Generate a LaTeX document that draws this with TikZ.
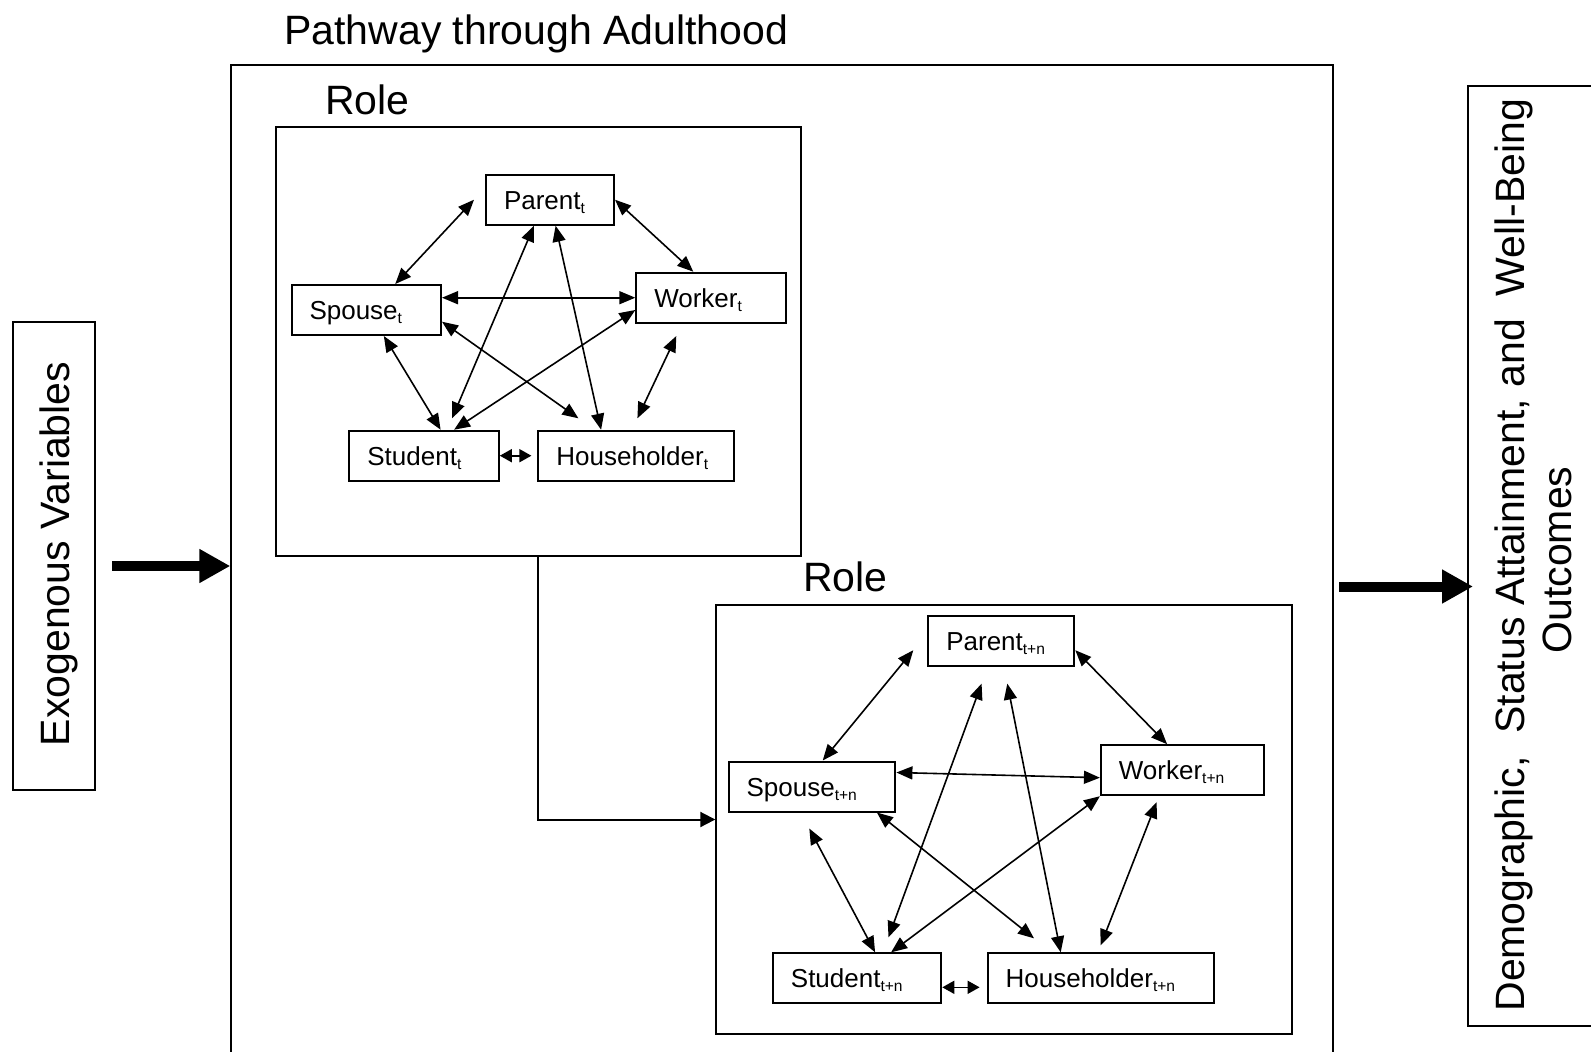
\documentclass[tikz,border=0pt]{standalone}
\usepackage{fontspec}
\setmainfont{Liberation Sans}
\usetikzlibrary{arrows.meta,calc,positioning}

\newcommand{\idx}[1]{\raisebox{-0.3ex}{\fontsize{7.8pt}{8pt}\selectfont #1}}

\tikzset{
    frame/.style = {draw, line width=1pt, anchor=north west, inner sep=0pt},
    rolebox/.style = {draw, line width=1pt, anchor=west, inner xsep=9pt, inner ysep=0pt, minimum height=25pt, text height=9.5pt, text depth=0pt, align=left, font=\fontsize{13pt}{15pt}\selectfont},
    biglabel/.style = {inner sep=0pt, font=\fontsize{20.5pt}{25pt}\selectfont},
    biarrow/.style = {line width=0.8pt, {Triangle[length=8pt,width=6.5pt]}-{Triangle[length=8pt,width=6.5pt]}},
    shortarrow/.style = {line width=0.8pt, {Triangle[length=6pt,width=6.5pt]}-{Triangle[length=6pt,width=6.5pt]}},
    link/.style = {line width=1pt, -{Triangle[length=7.5pt,width=7.5pt]}},
    bigarrow/.style = {line width=5pt, -{Triangle[length=15.5pt,width=16pt]}}
}

\begin{document}
\begin{tikzpicture}[x = 0.5pt, y = -0.5pt]
    \useasboundingbox (0,0) rectangle (1591,1051);
    \node[biglabel, anchor=base west] (title) at (284,44.6) {Pathway through Adulthood};
    \node[frame, minimum width=550.6pt, minimum height=501pt] (path) at (230.3,64) {};
    \node[frame, minimum width=262.4pt, minimum height=214.6pt] (role1) at (274.7,125.8) {};
    \node[frame, minimum width=287.6pt, minimum height=214.5pt] (role2) at (715.3,604) {};
    \node[biglabel, anchor=base west] (rolelab1) at (324.7,114.7) {Role};
    \node[biglabel, anchor=base west] (rolelab2) at (802.6,591.6) {Role};
    \node[frame, minimum width=41pt, minimum height=234pt] (exo) at (12,321) {};
    \node[biglabel, rotate=90, anchor=base] (exotxt) at (69,554) {Exogenous Variables};
    \node[frame, minimum width=90pt, minimum height=470pt] (outc) at (1467,85) {};
    \node[biglabel, rotate=90, anchor=base] (outtxt1) at (1524,555) {Demographic,\ \ Status Attainment, and\ \ Well-Being};
    \node[biglabel, rotate=90, anchor=base] (outtxt2) at (1571,560) {Outcomes};

    \node[rolebox, text width=46pt] (par1) at (485,199.7) {Parent\idx{t}};
    \node[rolebox, text width=57pt] (wor1) at (635.3,297.7) {Worker\idx{t}};
    \node[rolebox, text width=56.75pt] (spo1) at (290.5,310) {Spouse\idx{t}};
    \node[rolebox, text width=56.7pt] (stu1) at (348.4,455.7) {Student\idx{t}};
    \node[rolebox, text width=80pt] (hou1) at (537.4,455.7) {Householder\idx{t}};

    \node[rolebox, text width=55pt] (par2) at (927.3,641.2) {Parent\idx{t+n}};
    \node[rolebox, text width=63.7pt] (wor2) at (1099.9,770.2) {Worker\idx{t+n}};
    \node[rolebox, text width=65.4pt] (spo2) at (727.6,786.5) {Spouse\idx{t+n}};
    \node[rolebox, text width=66.2pt] (stu2) at (771.9,978.3) {Student\idx{t+n}};
    \node[rolebox, text width=95.1pt] (hou2) at (986.6,978.3) {Householder\idx{t+n}};

    \draw[bigarrow] ([xshift=8pt]exo.east |- path.west) -- (path.west);
    \draw[bigarrow] ($(path.east)+(5.5,20.5)$) -- ($(outc.west)+(6,30.5)$);
    \draw[link] (role1.south) |- (role2.west);

    \draw[biarrow] ($(par1.west)+(-11,0)$) -- ($(spo1.north)+(29,0)$);
    \draw[biarrow] (par1.east) -- ($(wor1.north)+(-18,0)$);
    \draw[biarrow] (spo1.east |- wor1.west) -- (wor1.west);
    \draw[biarrow] ($(spo1.south)+(17.6,0)$) -- ($(stu1.north)+(16.5,0)$);
    \draw[biarrow] ($(spo1.east)+(0,11.7)$) -- ($(hou1.north)+(-58,-11.4)$);
    \draw[biarrow] ($(par1.south)+(-16,0)$) -- ($(stu1.north)+(28,-11.4)$);
    \draw[biarrow] ($(par1.south)+(5.6,0)$) -- ($(hou1.north)+(-35.3,0)$);
    \draw[biarrow] ($(wor1.west)+(0,12.3)$) -- ($(stu1.north)+(30,0)$);
    \draw[biarrow] ($(wor1.south)+(-35,12.3)$) -- ($(hou1.north)+(1,-11.4)$);
    \draw[shortarrow, shorten >=3pt] (stu1.east) -- (hou1.west);

    \draw[biarrow] ($(par2.west)+(-14,9)$) -- ($(spo2.north)+(10.7,0)$);
    \draw[biarrow] ($(par2.east)+(0,9)$) -- ($(wor2.north)+(-15.5,0)$);
    \draw[biarrow] ($(spo2.east)+(0,-14)$) -- ($(wor2.west)+(0,7.5)$);
    \draw[biarrow] ($(spo2.south)+(-2.7,16)$) -- ($(stu2.north)+(18,0)$);
    \draw[biarrow] ($(spo2.south east)+(-19.5,0)$) -- ($(hou2.north)+(-66.7,-14)$);
    \draw[biarrow] ($(par2.south)+(-19.7,16.4)$) -- ($(stu2.north)+(31.4,-15)$);
    \draw[biarrow] ($(par2.south)+(6,16.4)$) -- ($(hou2.north)+(-40,0)$);
    \draw[biarrow] (wor2.south west) -- ($(stu2.north)+(34,0)$);
    \draw[biarrow] ($(wor2.south)+(-26,6)$) -- ($(hou2.north)+(0,-7)$);
    \draw[shortarrow, shorten >=3.5pt] ($(stu2.east)+(0,9)$) -- ($(hou2.west)+(0,9)$);
\end{tikzpicture}
\end{document}
